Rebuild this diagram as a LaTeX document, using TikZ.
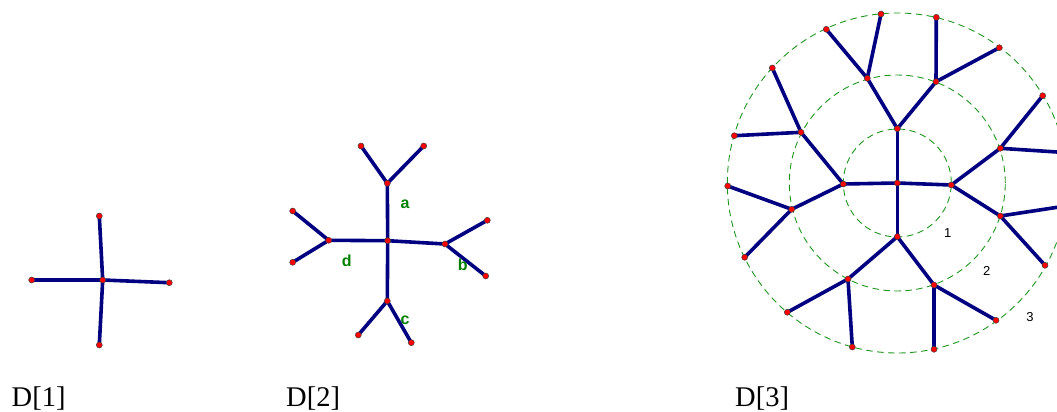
\documentclass[tikz,border=0pt]{standalone}
\usepackage{fontspec}
\setmainfont{Liberation Serif}
\setsansfont{Liberation Sans}

\definecolor{azul}{RGB}{0,0,128}
\definecolor{verde}{RGB}{0,128,0}
\definecolor{verdec}{RGB}{30,150,30}

\tikzset{
	rama/.style={draw=azul, line width=3.6pt},
	punto/.style={circle, fill=red, draw=black!75, line width=0.5pt, minimum size=6pt, inner sep=0pt},
	nivel/.style={draw=verdec, dash pattern=on 6.5pt off 4.5pt, line width=0.9pt},
	etiq/.style={text=verde, font=\sffamily\bfseries\fontsize{16}{16}\selectfont},
	num/.style={font=\sffamily\fontsize{13}{13}\selectfont},
	titulo/.style={anchor=base west, inner sep=0pt, font=\fontsize{28.5}{28.5}\selectfont}
}

\begin{document}
\begin{tikzpicture}[x=1pt, y=-1pt]
\clip (0,0) rectangle (1057,412);

% Diagrama D[1]
\coordinate (A) at (102.7,280);
\coordinate (A1) at (99.3,216);
\coordinate (A2) at (169.3,282.7);
\coordinate (A3) at (99.3,345);
\coordinate (A4) at (31.7,280);

	\foreach \n in {A1,A2,A3,A4}
		\draw[rama] (A) -- (\n);
	\foreach \n in {A,A1,A2,A3,A4}
		\node[punto] (p\n) at (\n) {};

\node[titulo] (T1) at (11.5,406) {D[1]};

% Diagrama D[2]
\coordinate (B) at (387.7,240.7);
\coordinate (Ba) at (387.3,183.3);
\coordinate (Bb) at (445,244);
\coordinate (Bc) at (387.3,301);
\coordinate (Bd) at (328.7,240.3);
\coordinate (Ba1) at (361,146);
\coordinate (Ba2) at (423.7,146);
\coordinate (Bb1) at (487.3,220.3);
\coordinate (Bb2) at (485.7,276);
\coordinate (Bc1) at (358.3,335);
\coordinate (Bc2) at (411.3,342.7);
\coordinate (Bd1) at (292.7,211);
\coordinate (Bd2) at (292.7,262.3);

	\foreach \n in {a,b,c,d} {
		\draw[rama] (B) -- (B\n);
		\draw[rama] (B\n1) -- (B\n) -- (B\n2);
	}
	\foreach \n in {B,Ba,Bb,Bc,Bd,Ba1,Ba2,Bb1,Bb2,Bc1,Bc2,Bd1,Bd2}
		\node[punto] (p\n) at (\n) {};

\node[etiq] (la) at (405,204) {a};
\node[etiq] (lb) at (462.7,264.3) {b};
\node[etiq] (lc) at (405,320.7) {c};
\node[etiq] (ld) at (346.7,261) {d};

\node[titulo] (T2) at (286,406) {D[2]};

% Diagrama D[3]
\coordinate (C) at (897.3,183);
	\foreach \r in {54,108,170}
		\draw[nivel] (C) circle [radius=\r pt];

\coordinate (Ct) at (897.3,128.7);
\coordinate (Cr) at (951.3,185);
\coordinate (Cb) at (897.3,236.7);
\coordinate (Cl) at (843.3,184);
\coordinate (Ct1) at (867.3,78.3);
\coordinate (Ct2) at (936,81.7);
\coordinate (Cr1) at (1000.3,148.3);
\coordinate (Cr2) at (1000.3,216);
\coordinate (Cb1) at (848,279);
\coordinate (Cb2) at (934,285);
\coordinate (Cl1) at (801,132.3);
\coordinate (Cl2) at (791.7,209.3);
\coordinate (Ct11) at (826.3,29.3);
\coordinate (Ct12) at (881,14);
\coordinate (Ct21) at (936.3,17.3);
\coordinate (Ct22) at (999.3,47.7);
\coordinate (Cr11) at (1042.7,95.7);
\coordinate (Cr12) at (1064.6,152.5);
\coordinate (Cr21) at (1065.7,206);
\coordinate (Cr22) at (1045,265.3);
\coordinate (Cb11) at (787.3,312.3);
\coordinate (Cb12) at (852.3,347);
\coordinate (Cb21) at (934,349.3);
\coordinate (Cb22) at (996,320.3);
\coordinate (Cl11) at (772.3,68);
\coordinate (Cl12) at (734.3,135.7);
\coordinate (Cl21) at (727.7,186);
\coordinate (Cl22) at (744.7,257.3);

	\foreach \n in {t,r,b,l} {
		\draw[rama] (C) -- (C\n);
		\foreach \m in {1,2} {
			\draw[rama] (C\n) -- (C\n\m);
			\draw[rama] (C\n\m1) -- (C\n\m) -- (C\n\m2);
		}
	}
	\foreach \n in {t,r,b,l} {
		\node[punto] (pC\n) at (C\n) {};
		\foreach \m in {1,2} {
			\node[punto] (pC\n\m) at (C\n\m) {};
			\node[punto] (pC\n\m1) at (C\n\m1) {};
			\node[punto] (pC\n\m2) at (C\n\m2) {};
		}
	}
\node[punto] (pC) at (C) {};

\node[num] (n1) at (947.7,232.7) {1};
\node[num] (n2) at (986.7,271) {2};
\node[num] (n3) at (1030,317) {3};

\node[titulo] (T3) at (735,406) {D[3]};
\end{tikzpicture}
\end{document}
